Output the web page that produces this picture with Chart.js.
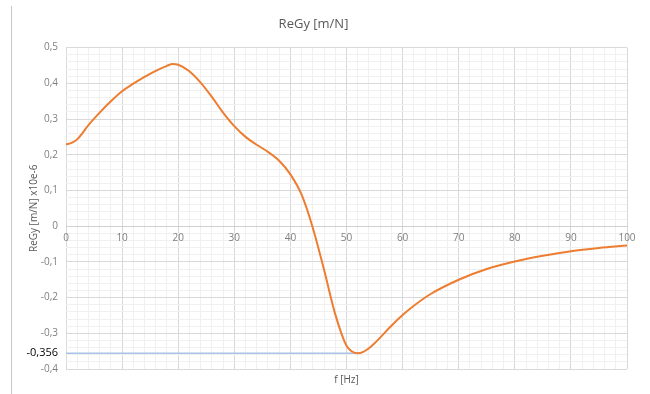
<!DOCTYPE html>
<html lang="en">
<head>
<meta charset="UTF-8">
<title>ReGy [m/N]</title>
<script src="https://cdn.jsdelivr.net/npm/chart.js"></script>
<style>
  html, body { margin: 0; padding: 0; background: #fff; }
  #wrap { width: 650px; height: 394px; }
</style>
</head>
<body>
<div id="wrap"><canvas id="myChart" width="650" height="394"></canvas></div>
<script>
    // frequency [Hz] and ReGy [m/N] x10e-6
    const freq = [0, 1, 2, 3, 4, 6, 8, 10, 12, 14, 16, 18, 19, 20, 22, 24, 26, 28, 30, 32, 34, 36, 38, 40,
        42, 44, 46, 48, 50, 51, 52, 53, 54, 55, 56, 58, 60, 62, 65, 70, 75, 80, 85, 90, 95, 100];
    const reGy = [0.229, 0.233, 0.243, 0.262, 0.283, 0.318, 0.35, 0.378, 0.399, 0.418, 0.435, 0.449, 0.454, 0.452,
        0.434, 0.402, 0.362, 0.318, 0.28, 0.25, 0.228, 0.208, 0.183, 0.145,
        0.088, -0.005, -0.122, -0.247, -0.335, -0.351, -0.356, -0.352, -0.342, -0.328, -0.312, -0.279,
        -0.249, -0.223, -0.19, -0.15, -0.12, -0.099, -0.083, -0.07, -0.061, -0.054];

    const minValue = -0.356;
    const minFreq = 52;

    const xTicks = [0, 10, 20, 30, 40, 50, 60, 70, 80, 90, 100];
    const yTicks = [-0.4, -0.3, -0.2, -0.1, 0, 0.1, 0.2, 0.3, 0.4, 0.5];

    const fmt = v => String(Math.round(v * 1000) / 1000).replace('.', ',');

    const leftEdge = {
        id: 'leftEdge',
        beforeDraw(chart) {
            const c = chart.ctx;
            c.save();
            c.strokeStyle = '#c6c6c6';
            c.lineWidth = 1;
            c.beginPath();
            c.moveTo(11.5, 6);
            c.lineTo(11.5, 394);
            c.stroke();
            c.restore();
        }
    };

    const ctx = document.getElementById('myChart').getContext('2d');
    new Chart(ctx, {
        type: 'line',
        data: {
            datasets: [{
                label: 'ReGy',
                data: freq.map((f, i) => ({x: f, y: reGy[i]})),
                borderColor: '#ed7d31',
                borderWidth: 2,
                pointRadius: 0,
                fill: false,
                cubicInterpolationMode: 'monotone'
            }, {
                label: 'min',
                data: [{x: 0, y: minValue}, {x: minFreq, y: minValue}],
                borderColor: '#a9c3e6',
                borderWidth: 1.5,
                pointRadius: 0,
                fill: false
            }]
        },
        options: {
            responsive: false,
            animation: false,
            layout: {padding: {left: 0, right: 23, top: 0, bottom: 0}},
            plugins: {
                legend: {display: false},
                tooltip: {enabled: false},
                title: {
                    display: true,
                    text: 'ReGy [m/N]',
                    color: '#595959',
                    font: {family: 'Open Sans', size: 13, weight: 'normal'},
                    padding: {top: 16, bottom: 16}
                }
            },
            scales: {
                x: {
                    type: 'linear',
                    position: {y: 0},
                    min: 0,
                    max: 100,
                    afterBuildTicks: s => {
                        s.ticks = [];
                        for (let i = 0; i <= 50; i++) s.ticks.push({value: i * 2});
                    },
                    grid: {
                        drawTicks: false,
                        color: c => (c.tick && c.tick.value % 10 === 0) ? '#d9d9d9' : '#f0f0f0'
                    },
                    border: {color: '#d0d0d0'},
                    ticks: {
                        autoSkip: false,
                        maxRotation: 0,
                        padding: 6,
                        color: '#7f7f7f',
                        font: {family: 'Open Sans', size: 10},
                        callback: v => xTicks.includes(v) ? String(v) : ''
                    }
                },
                x2: {
                    type: 'linear',
                    position: 'bottom',
                    min: 0,
                    max: 100,
                    afterFit: s => { s.height = 25; },
                    grid: {display: false},
                    border: {display: false},
                    ticks: {display: false},
                    title: {
                        display: true,
                        text: 'f [Hz]',
                        color: '#595959',
                        font: {family: 'Open Sans', size: 10},
                        padding: {top: 5, bottom: 8}
                    }
                },
                y: {
                    type: 'linear',
                    min: -0.4,
                    max: 0.5,
                    afterBuildTicks: s => {
                        s.ticks = [];
                        for (let i = -20; i <= 25; i++) s.ticks.push({value: i / 50});
                        s.ticks.push({value: minValue});
                    },
                    afterFit: s => { s.width = 66; },
                    grid: {
                        drawTicks: false,
                        color: c => {
                            if (!c.tick) return '#f0f0f0';
                            const v = c.tick.value;
                            if (v === minValue) return 'rgba(0,0,0,0)';
                            return Math.abs(Math.round(v * 50)) % 5 === 0 ? '#d9d9d9' : '#f0f0f0';
                        }
                    },
                    border: {display: false},
                    ticks: {
                        autoSkip: false,
                        padding: 8,
                        color: c => (c.tick && c.tick.value === minValue) ? '#000000' : '#7f7f7f',
                        font: c => (c.tick && c.tick.value === minValue)
                            ? {family: 'Open Sans', size: 11}
                            : {family: 'Open Sans', size: 10},
                        callback: v => {
                            if (v === minValue) return fmt(v);
                            return yTicks.some(t => Math.abs(t - v) < 1e-9) ? fmt(v) : '';
                        }
                    },
                    title: {
                        display: true,
                        text: 'ReGy [m/N] x10e-6',
                        color: '#595959',
                        font: {family: 'Open Sans', size: 10},
                        padding: {top: 28, bottom: 0}
                    }
                }
            }
        },
        plugins: [leftEdge]
    });
</script>
</body>
</html>
